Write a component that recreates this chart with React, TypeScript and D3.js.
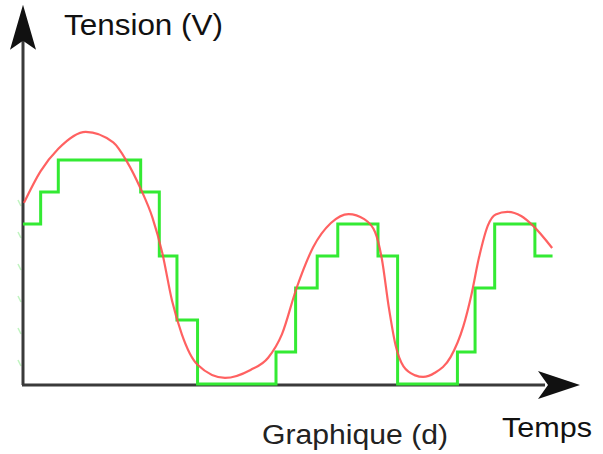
import React from "react";
import * as d3 from "d3";

// Quantized (green) signal: step edges in time units and the level held in each interval
const stepEdges = [0, 0.9, 1.8, 6.0, 6.95, 7.85, 8.9, 12.9, 13.9, 15.0, 16.05, 18.1, 19.1, 22.15, 23.05, 24.05, 26.1, 27.0];
const stepLevels = [5, 6, 7, 6, 4, 2, 0, 1, 3, 4, 5, 4, 0, 1, 3, 5, 4];

// Analog (red) signal samples
const analogT = [0.05, 0.9, 1.8, 3.2, 4.6, 5.3, 6.0, 6.6, 7.1, 7.6, 8.1, 8.9, 10.3, 11.6, 12.5, 13.2, 13.95, 14.8, 15.7, 16.6, 17.4, 17.95, 18.3, 18.65, 19.0, 19.4, 20.0, 20.4, 21.0, 21.8, 22.45, 22.85, 23.25, 23.7, 24.1, 24.7, 25.4, 26.0, 26.98];
const analogV = [5.66, 6.65, 7.35, 7.88, 7.55, 6.95, 6.1, 5.2, 4.1, 2.6, 1.55, 0.6, 0.19, 0.44, 0.82, 1.55, 3.0, 4.28, 5.03, 5.31, 5.15, 4.75, 3.9, 2.4, 1.2, 0.55, 0.27, 0.22, 0.35, 0.84, 1.8, 2.75, 3.95, 4.95, 5.3, 5.38, 5.25, 4.95, 4.25];

const tickLevels = [1, 2, 3, 4, 5, 6];

const yLabel = "Tension (V)";
const xLabel = "Temps";
const caption = "Graphique (d)";

export default function App() {
  const W = 603, H = 454;
  const x = d3.scaleLinear().domain([0, 28.4]).range([23, 580]);
  const y = d3.scaleLinear().domain([0, 7]).range([384, 160]);
  const x0 = x(0), y0 = y(0);
  const xTip = x(28.4);
  const yTip = y(11.85);

  const stepPts: [number, number][] = [];
  stepLevels.forEach((lv, i) => {
    stepPts.push([stepEdges[i], lv]);
    stepPts.push([stepEdges[i + 1], lv]);
  });
  const stepLine = d3.line<[number, number]>().x(d => x(d[0])).y(d => y(d[1]));

  const analog: [number, number][] = analogT.map((t, i) => [t, analogV[i]]);
  const curve = d3.line<[number, number]>().x(d => x(d[0])).y(d => y(d[1])).curve(d3.curveMonotoneX);

  const font = "'Liberation Sans', Arial, sans-serif";

  return (
    <svg width={W} height={H} style={{ position: "absolute", left: 0, top: 0, background: "#fff" }}>
      {tickLevels.map(l => (
        <line key={l} x1={18} x2={21} y1={y(l) + 8} y2={y(l) + 14} stroke="#33dd33" strokeWidth={1.5} opacity={0.3} />
      ))}
      <line x1={x0} y1={y0 + 1} x2={x0} y2={yTip + 35} stroke="#3a3a3a" strokeWidth={3} />
      <line x1={x0 - 1} y1={y0 + 1} x2={xTip - 35} y2={y0 + 1} stroke="#3a3a3a" strokeWidth={3} />
      <path d={`M${x0},${yTip} L${x0 + 13},${yTip + 45} L${x0},${yTip + 36} L${x0 - 13},${yTip + 45} Z`} fill="#111" />
      <path d={`M${xTip},${y0 + 1} L${xTip - 42},${y0 - 13} L${xTip - 32},${y0 + 1} L${xTip - 42},${y0 + 15} Z`} fill="#111" />

      <path d={stepLine(stepPts) || ""} fill="none" stroke="#33ea33" strokeWidth={3} strokeLinejoin="miter" />
      <path d={curve(analog) || ""} fill="none" stroke="#ff5050" strokeWidth={2.2} opacity={0.9} />

      <text x={64} y={35} fontFamily={font} fontSize={30} fill="#111" textLength={159} lengthAdjust="spacingAndGlyphs">{yLabel}</text>
      <text x={502} y={437} fontFamily={font} fontSize={28} fill="#111" textLength={90} lengthAdjust="spacingAndGlyphs">{xLabel}</text>
      <text x={262} y={444} fontFamily={font} fontSize={27} fill="#222" textLength={186} lengthAdjust="spacingAndGlyphs">{caption}</text>
    </svg>
  );
}
